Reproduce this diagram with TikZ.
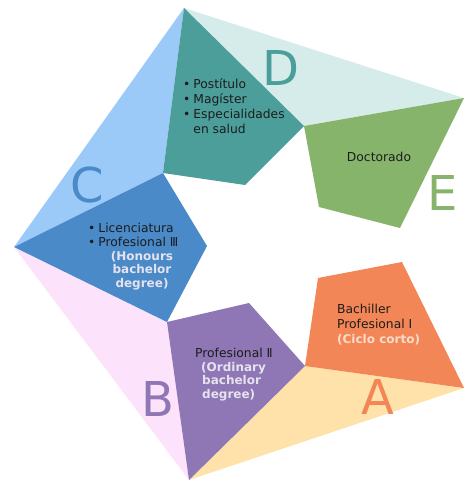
\documentclass[tikz,border=0pt]{standalone}
\usepackage{fontspec}
\setmainfont{DejaVu Sans}
\usetikzlibrary{positioning}
\definecolor{paleD}{HTML}{D5ECEA}
\definecolor{fullD}{HTML}{4B9E9A}
\definecolor{paleC}{HTML}{9CCAF8}
\definecolor{fullC}{HTML}{4A8AC9}
\definecolor{paleB}{HTML}{FCE3FB}
\definecolor{fullB}{HTML}{8F77B5}
\definecolor{paleA}{HTML}{FFE2A9}
\definecolor{fullA}{HTML}{F38656}
\definecolor{fullE}{HTML}{87B46B}
\definecolor{textdark}{HTML}{1C1C1C}
\definecolor{notelight}{HTML}{E6E2EE}
\definecolor{notewarm}{HTML}{FBDCCB}
\tikzset{
    x=1pt, y=-1pt,
    piece/.style={draw=none}, % flat filled pieces, no outline
    big letter/.style={font=\fontsize{48}{48}\selectfont, inner sep=0pt},
    list text/.style={font=\fontsize{12.3}{15.3}\selectfont, text=textdark,
        align=left, inner sep=0pt},
    note text/.style={font=\fontsize{12}{13.6}\selectfont\bfseries,
        text=notelight, align=center, inner sep=0pt}
}

\begin{document}
\begin{tikzpicture}
    \useasboundingbox (0,0) rectangle (464,481);
    % corner points of the star
    \coordinate (top) at (184,8);
    \coordinate (rightD) at (464,98);
    \coordinate (innerD) at (304,126);
    \coordinate (tealBR) at (245,185);
    \coordinate (innerC) at (163,173);
    \coordinate (leftC) at (14,247);
    \coordinate (blueR) at (207,246);
    \coordinate (innerB) at (167,322);
    \coordinate (bottom) at (189,480);
    \coordinate (purpleTR) at (249,303);
    \coordinate (innerA) at (305,366);
    \coordinate (rightA) at (464,388);
    \coordinate (orangeTL) at (318,278);
    \coordinate (orangeTR) at (402,262);
    \coordinate (greenBR) at (400,228);
    \coordinate (greenBL) at (319,207);

    % pale triangles
    \fill[paleD] (top) -- (rightD) -- (innerD) -- cycle;
    \fill[paleC] (top) -- (innerC) -- (leftC) -- cycle;
    \fill[paleB] (leftC) -- (innerB) -- (bottom) -- cycle;
    \fill[paleA] (innerA) -- (rightA) -- (bottom) -- cycle;

    % filled pieces
    \fill[fullD] (top) -- (innerD) -- (tealBR) -- (innerC) -- cycle;
    \fill[fullC] (innerC) -- (blueR) -- (innerB) -- (leftC) -- cycle;
    \fill[fullB] (innerB) -- (purpleTR) -- (innerA) -- (bottom) -- cycle;
    \fill[fullA] (innerA) -- (orangeTL) -- (orangeTR) -- (rightA) -- cycle;
    \fill[fullE] (innerD) -- (rightD) -- (greenBR) -- (greenBL) -- cycle;

    % letters
    \node[big letter, text=fullD] (letterD) at (281,68) {D};
    \node[big letter, text=fullE] (letterE) at (443,193) {E};
    \node[big letter, text=fullC] (letterC) at (87,185) {C};
    \node[big letter, text=fullB] (letterB) at (158,399) {B};
    \node[big letter, text=fullA] (letterA) at (378,397) {A};

    % texts
    \node[list text, anchor=north west] (listD) at (183,78)
        {\textbullet\hspace{3pt}Postítulo\\
         \textbullet\hspace{3pt}Magíster\\
         \textbullet\hspace{3pt}Especialidades\\
         \phantom{\textbullet}\hspace{3pt}en salud};
    \node[list text] (doctor) at (379,157) {Doctorado};
    \node[list text, font=\fontsize{12.3}{13.7}\selectfont, anchor=north west]
        (listC) at (88,223)
        {\textbullet\hspace{3pt}Licenciatura\\
         \textbullet\hspace{3pt}Profesional Ⅲ};
    \node[note text, anchor=north] (noteC) at (142,251)
        {(Honours\\bachelor\\degree)};
    \node[list text, anchor=west] (profB) at (195,353) {Profesional Ⅱ};
    \node[note text, align=left, anchor=north west] (noteB) at (201,362)
        {(Ordinary\\\hspace{1pt}bachelor\\\hspace{1pt}degree)};
    \node[list text, font=\fontsize{12.3}{15}\selectfont, anchor=north west]
        (bachA) at (337,304) {Bachiller\\Profesional Ⅰ};
    \node[note text, text=notewarm, anchor=north west]
        (noteA) at (337,334) {(Ciclo corto)};
\end{tikzpicture}
\end{document}
